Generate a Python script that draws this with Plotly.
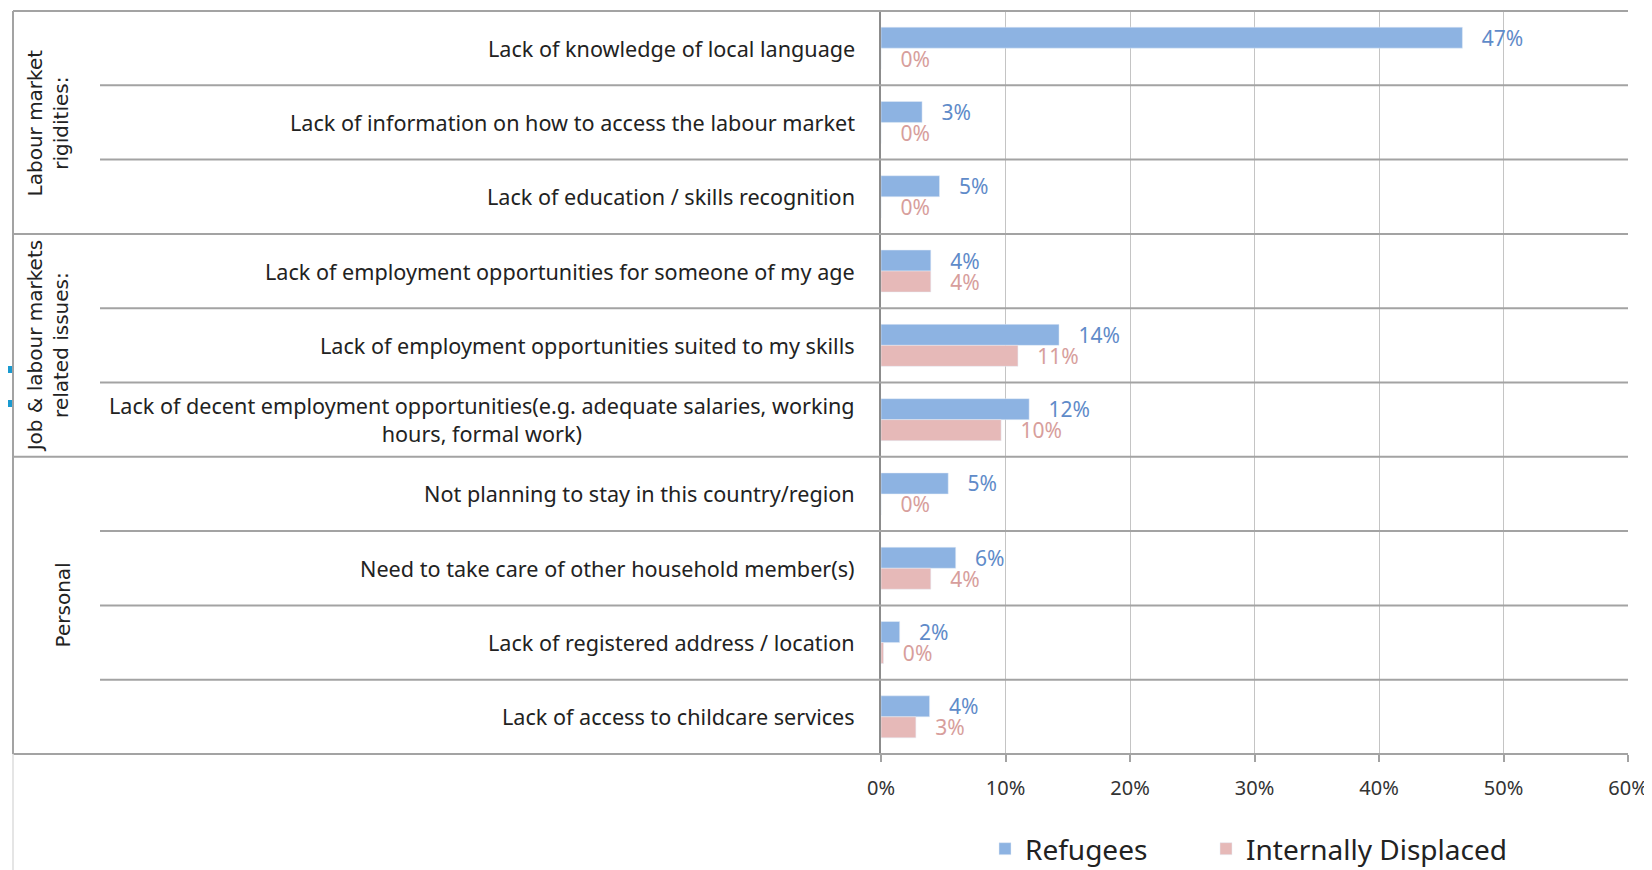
import plotly.graph_objects as go

categories = [
    "Lack of knowledge of local language",
    "Lack of information on how to access the labour market",
    "Lack of education / skills recognition",
    "Lack of employment opportunities for someone of my age",
    "Lack of employment opportunities suited to my skills",
    "Lack of decent employment opportunities(e.g. adequate salaries, working<br>hours, formal work)",
    "Not planning to stay in this country/region",
    "Need to take care of other household member(s)",
    "Lack of registered address / location",
    "Lack of access to childcare services",
]
refugees = [46.7, 3.3, 4.7, 4.0, 14.3, 11.9, 5.4, 6.0, 1.5, 3.9]
idps = [0, 0, 0, 4.0, 11.0, 9.65, 0, 4.0, 0.2, 2.8]

groups = ["Labour market<br>rigidities:", "Job & labour markets<br>related issues:", "Personal"]
group_sizes = [3, 3, 4]

x_ticks = [0, 10, 20, 30, 40, 50, 60]

W, H = 1652, 870
OFF = 8  # page body margin
# plot area in page pixels
PL, PR, PT, PB = 881, 1628, 11, 754
pw = PR - PL
ph = PB - PT
L = PL - OFF
T = PT - OFF
R = W - (PR - OFF)
B = H - (PB - OFF)


def px_x(p):
    return (p - PL) / pw


def px_y(p):
    return (PB - p) / ph


FONT = "Noto Sans"
BLUE = "#8DB3E2"
PINK = "#E6B9B8"
BLUE_T = "#5F8BC9"
PINK_T = "#D79E9C"
NB = "\u00a0\u00a0\u00a0"

fig = go.Figure()
fig.add_trace(go.Bar(
    y=categories, x=refugees, orientation="h", name="Refugees", legend="legend",
    marker=dict(color=BLUE), texttemplate=NB + "%{x:.0f}%", textposition="outside",
    textfont=dict(family=FONT, size=21, color=BLUE_T), cliponaxis=False,
    constraintext="none", hoverinfo="skip",
))
fig.add_trace(go.Bar(
    y=categories, x=idps, orientation="h", name="Internally Displaced", legend="legend2",
    marker=dict(color=PINK), texttemplate=NB + "%{x:.0f}%", textposition="outside",
    textfont=dict(family=FONT, size=21, color=PINK_T), cliponaxis=False,
    constraintext="none", hoverinfo="skip",
))

shapes = []
n = len(categories)
group_bounds = [0]
for s in group_sizes:
    group_bounds.append(group_bounds[-1] + s)
for k in range(n + 1):
    x0 = px_x(13) if k in group_bounds else px_x(100)
    shapes.append(dict(type="line", xref="paper", yref="paper", x0=x0, x1=1,
                       y0=1 - k / n, y1=1 - k / n, line=dict(color="#A3A3A3", width=2), layer="above"))
# left frame
shapes.append(dict(type="line", xref="paper", yref="paper", x0=px_x(13), x1=px_x(13),
                   y0=0, y1=1, line=dict(color="#A3A3A3", width=2)))
shapes.append(dict(type="line", xref="paper", yref="paper", x0=px_x(13), x1=px_x(13),
                   y0=px_y(878), y1=0, line=dict(color="#DDDDDD", width=1.5)))
# small marks at the left edge
for (a, b) in [(366, 373), (400, 407)]:
    shapes.append(dict(type="rect", xref="paper", yref="paper", x0=px_x(8), x1=px_x(12),
                       y0=px_y(b), y1=px_y(a), line=dict(width=0), fillcolor="#1A9AD0"))

annotations = []
for c in categories:
    annotations.append(dict(x=0, xref="paper", y=c, yref="y", text=c, showarrow=False,
                            xanchor="right", xshift=-24, align="center",
                            font=dict(family=FONT, size=21.6, color="#222222")))
gx = [px_x(48), px_x(48), px_x(63)]
start = 0
for g, s, xg in zip(groups, group_sizes, gx):
    yc = 1 - (start + s / 2) / n
    annotations.append(dict(x=xg, xref="paper", y=yc, yref="paper", text=g, showarrow=False,
                            textangle=-90, xanchor="center", yanchor="middle", align="center",
                            font=dict(family="DejaVu Sans", size=20, color="#222222")))
    start += s

leg_common = dict(orientation="h", xanchor="left", yanchor="middle",
                  font=dict(family=FONT, size=28, color="#222222"),
                  bgcolor="rgba(0,0,0,0)", borderwidth=0)

fig.update_layout(
    width=W, height=H,
    margin=dict(l=L, r=R, t=T, b=B, pad=0, autoexpand=False),
    paper_bgcolor="white", plot_bgcolor="white",
    barmode="group", bargap=0.435, bargroupgap=0,
    showlegend=True,
    legend=dict(x=px_x(985), y=px_y(849), **leg_common),
    legend2=dict(x=px_x(1206), y=px_y(849), **leg_common),
    xaxis=dict(range=[0, 60], tickvals=x_ticks, ticktext=[f"{v}%" for v in x_ticks],
               showgrid=True, gridcolor="#C4C4C4", gridwidth=1, zeroline=False,
               ticks="outside", ticklen=7, tickcolor="#A3A3A3", tickwidth=1.5,
               ticklabelstandoff=9, automargin=False,
               tickfont=dict(family=FONT, size=20, color="#333333"), showline=False,
               fixedrange=True),
    yaxis=dict(type="category", categoryorder="array", categoryarray=categories,
               range=[n - 0.5, -0.5], showticklabels=False, showgrid=False, zeroline=False,
               showline=True, linecolor="#8C8C8C", linewidth=2, ticks="", automargin=False),
    shapes=shapes,
    annotations=annotations,
)

fig.write_html("out.html")
